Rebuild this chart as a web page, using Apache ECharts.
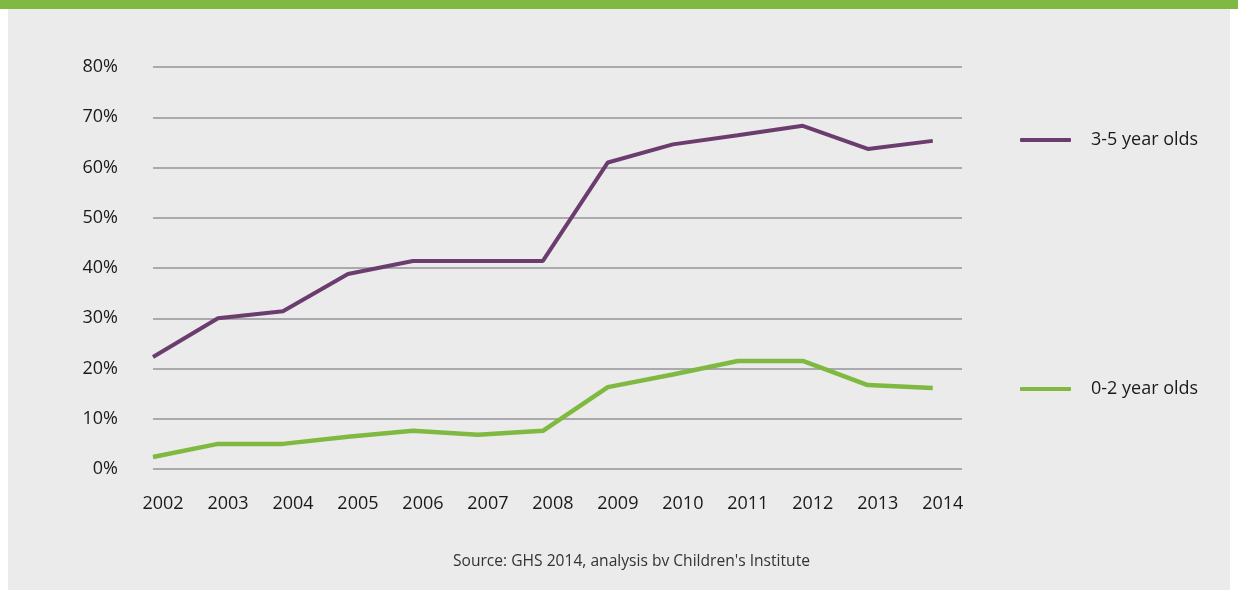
<!DOCTYPE html>
<html>
<head>
<meta charset="utf-8">
<script src="https://cdn.jsdelivr.net/npm/echarts@6/dist/echarts.min.js"></script>
<style>
  html, body { margin: 0; padding: 0; background: #ffffff; }
  #wrap { position: absolute; left: 8px; top: 0; width: 1222px; height: 590px; background: #ebebeb; }
  #bar { position: absolute; left: 0; top: 0; width: 1238px; height: 9px; background: #80b941; }
  #main { position: absolute; left: 0; top: 0; width: 1238px; height: 590px; }
</style>
</head>
<body>
<div id="wrap"></div>
<div id="bar"></div>
<div id="main"></div>
<script>
  // years and values (%)
  const years = [2002, 2003, 2004, 2005, 2006, 2007, 2008, 2009, 2010, 2011, 2012, 2013, 2014];
  const age35 = [22.3, 30.0, 31.4, 38.8, 41.4, 41.4, 41.4, 61.0, 64.6, 66.4, 68.3, 63.7, 65.3];
  const age02 = [2.4, 5.0, 5.0, 6.4, 7.6, 6.8, 7.6, 16.3, 18.8, 21.5, 21.5, 16.7, 16.1];
  const yTicks = [0, 10, 20, 30, 40, 50, 60, 70, 80];

  const purple = '#6b3d6e';
  const green = '#80b941';
  const textFont = "'Open Sans', 'Noto Sans', sans-serif";

  let myChart = echarts.init(document.getElementById('main'));
  myChart.setOption({
    animation: false,
    backgroundColor: 'transparent',
    grid: { left: 153, right: 276, top: 67, bottom: 121 },
    legend: [
      {
        data: ['3-5 year olds'],
        left: 1015, top: 126,
        icon: 'roundRect', itemWidth: 51, itemHeight: 4, itemGap: 0,
        textStyle: { fontFamily: textFont, fontSize: 18, color: '#1a1a1a', padding: [0, 0, 0, 15] }
      },
      {
        data: ['0-2 year olds'],
        left: 1015, top: 375,
        icon: 'roundRect', itemWidth: 51, itemHeight: 4, itemGap: 0,
        textStyle: { fontFamily: textFont, fontSize: 18, color: '#1a1a1a', padding: [0, 0, 0, 15] }
      }
    ],
    graphic: [
      {
        type: 'text', left: 453, top: 554,
        style: { text: "Source: GHS 2014, analysis bv Children's Institute", fontFamily: textFont, fontSize: 15.6, fill: '#333333' }
      }
    ],
    xAxis: {
      type: 'value',
      min: 2002, max: 2014.45, interval: 1,
      axisLine: { show: false },
      axisTick: { show: false },
      splitLine: { show: false },
      axisLabel: {
        showMaxLabel: false,
        margin: 26,
        padding: [0, 0, 0, 20],
        fontFamily: textFont, fontSize: 18, color: '#1a1a1a',
        formatter: v => Number.isInteger(v) ? String(v) : ''
      }
    },
    yAxis: {
      type: 'value',
      min: yTicks[0], max: yTicks[yTicks.length - 1], interval: 10,
      axisLine: { show: false },
      axisTick: { show: false },
      splitLine: { lineStyle: { color: '#a9a9ae', width: 2 } },
      axisLabel: {
        margin: 35,
        fontFamily: textFont, fontSize: 18, color: '#1a1a1a',
        formatter: v => v + '%'
      }
    },
    series: [
      {
        name: '3-5 year olds',
        type: 'line',
        data: years.map((y, i) => [y, age35[i]]),
        showSymbol: false,
        color: purple,
        lineStyle: { width: 4, color: purple }
      },
      {
        name: '0-2 year olds',
        type: 'line',
        data: years.map((y, i) => [y, age02[i]]),
        showSymbol: false,
        color: green,
        lineStyle: { width: 4.5, color: green }
      }
    ]
  });
</script>
</body>
</html>
